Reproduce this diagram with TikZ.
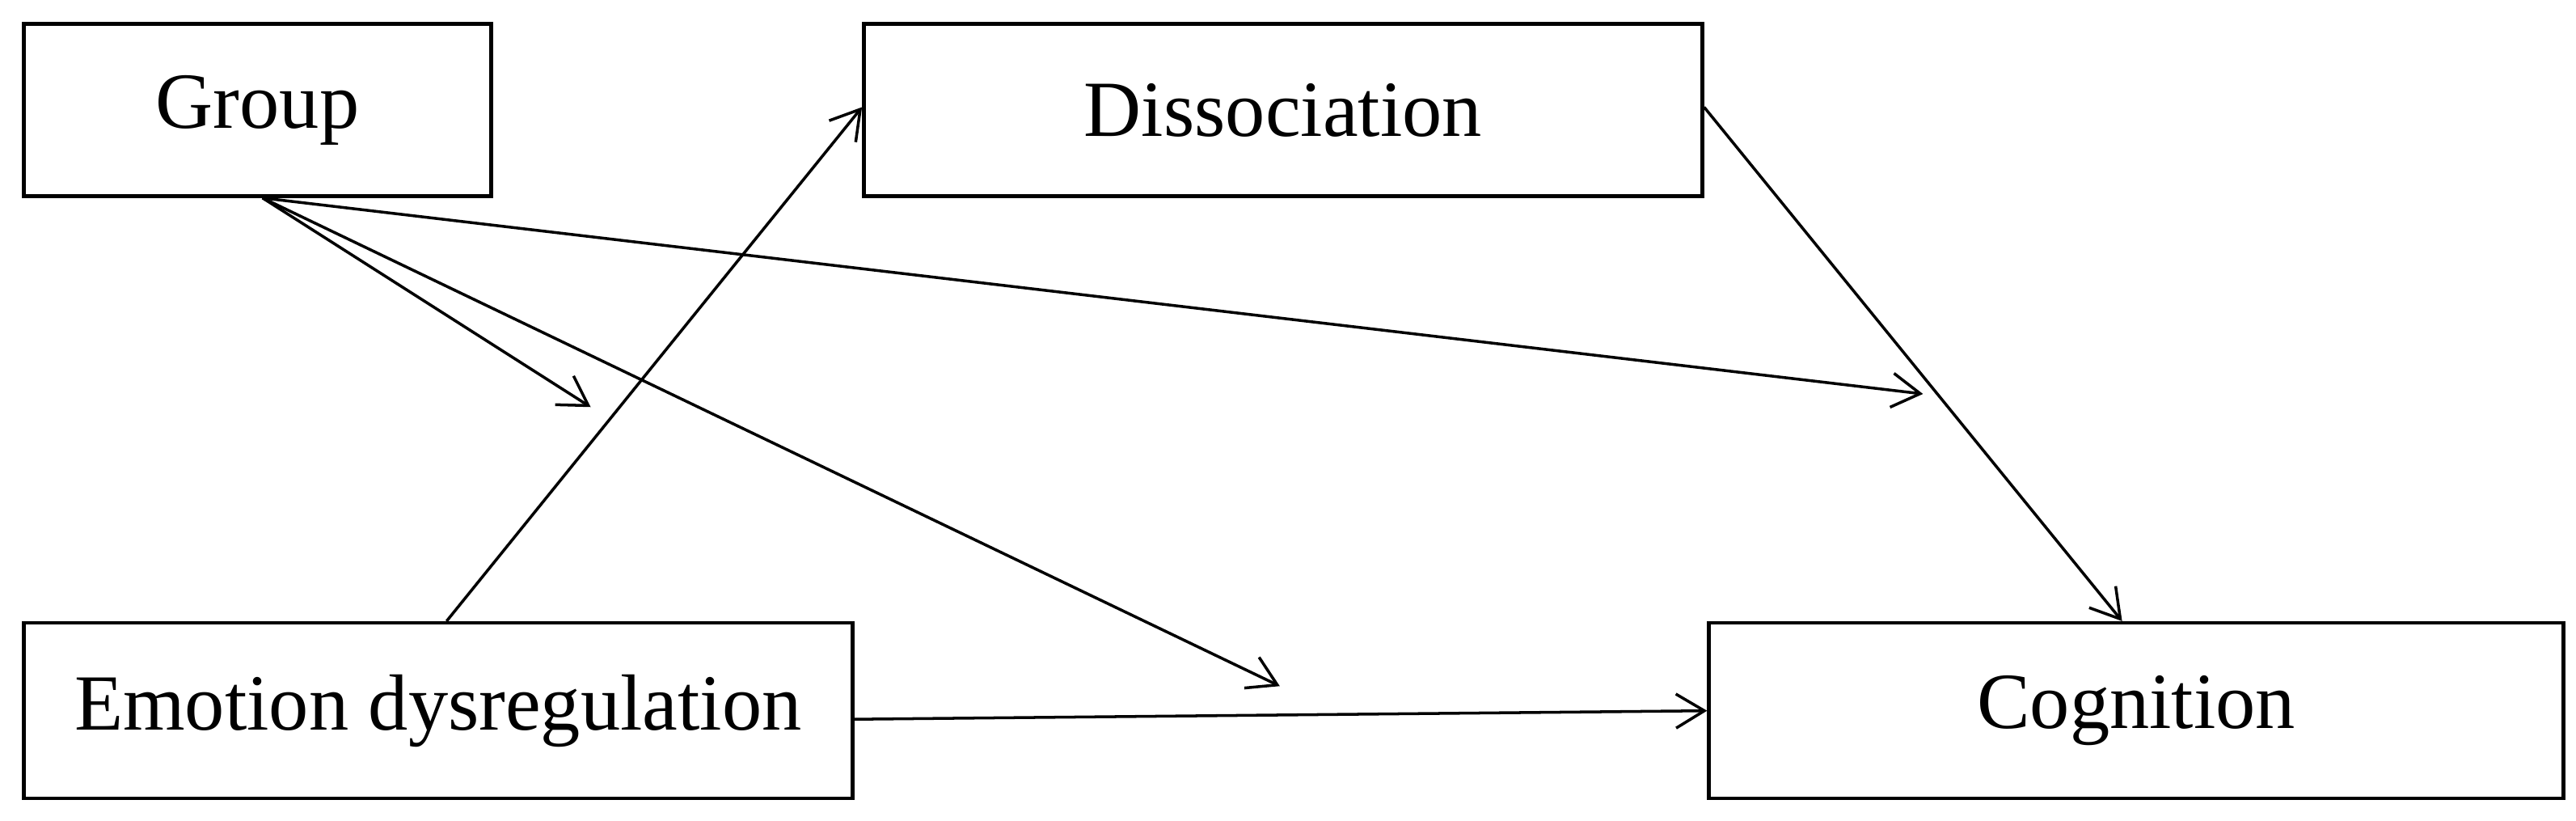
\documentclass[tikz,border=0pt]{standalone}
\usepackage{fontspec}
\setmainfont{Liberation Serif}
\usetikzlibrary{arrows.meta}
\begin{document}
\begin{tikzpicture}[x=0.02029cm,y=-0.02029cm,
  box/.style={draw,line width=1.3pt,inner sep=0pt,font=\fontsize{28}{33}\selectfont},
  arr/.style={line width=1pt,-{Straight Barb[length=10pt,width=12pt,line width=1pt]}}]
\useasboundingbox (0,0) rectangle (1570,500);
\node[box,minimum width=5.78cm,minimum height=2.13cm] (grp) at (157,67) {Group};
\node[box,minimum width=10.37cm,minimum height=2.13cm] (dis) at (782,67) {Dissociation};
\node[box,minimum width=10.25cm,minimum height=2.17cm] (emo) at (267,433) {Emotion dysregulation};
\node[box,minimum width=10.57cm,minimum height=2.17cm] (cog) at (1302,433) {Cognition};
\coordinate (m1) at (360,248);
\coordinate (m2) at (780,418);
\coordinate (m3) at (1172,240);
\draw[arr] (grp.south) ++(3,0) coordinate (gs) -- (m1);
\draw[arr] (gs) -- (m2);
\draw[arr] (gs) -- (m3);
\draw[arr] ([xshift=3]emo.north) -- ([yshift=1]dis.west);
\draw[arr] ([yshift=1]dis.east) -- ([xshift=-5]cog.north);
\draw[arr] ([yshift=-3]emo.east) -- (cog.west);
\end{tikzpicture}
\end{document}
